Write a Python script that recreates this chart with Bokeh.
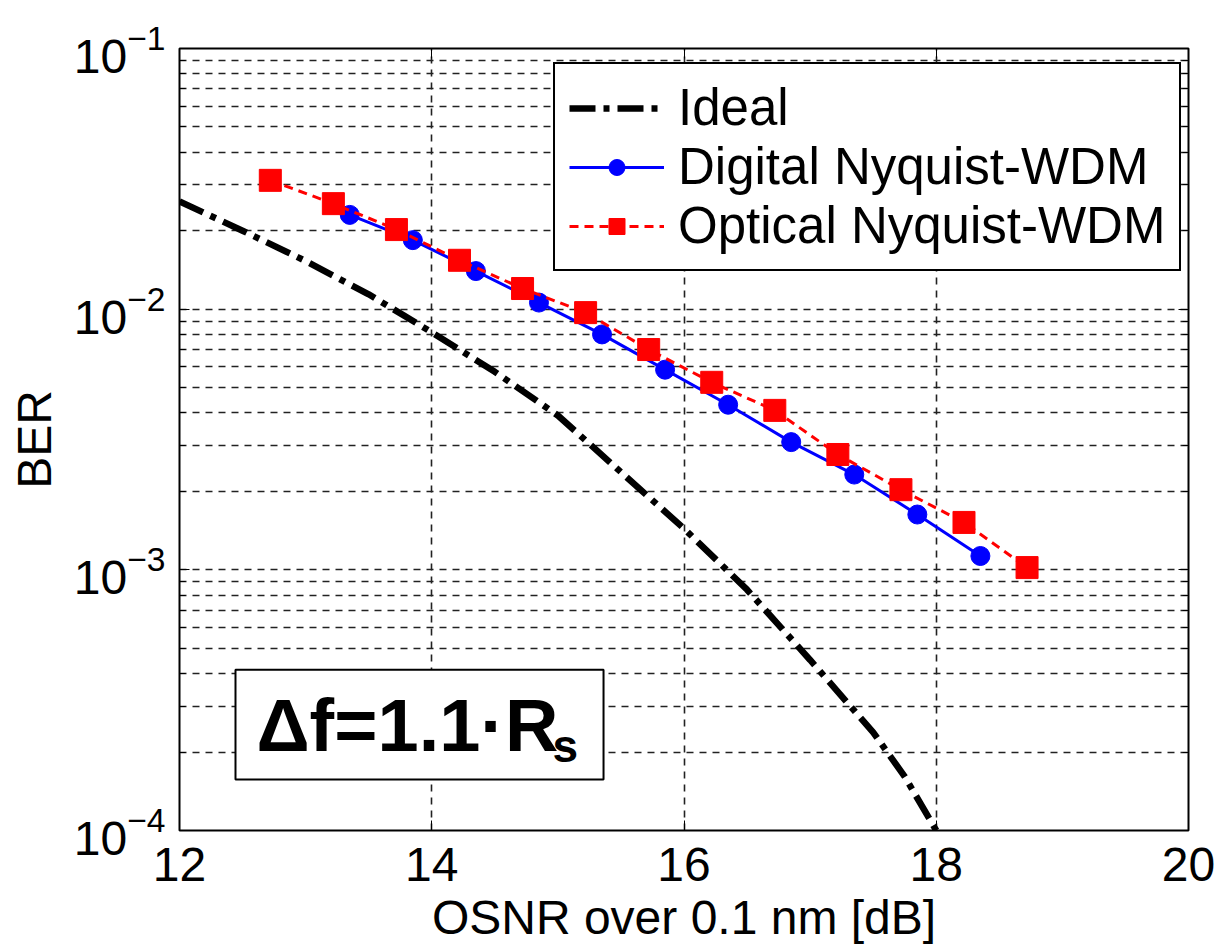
from bokeh.plotting import figure
from bokeh.models import (FixedTicker, LinearAxis, LogAxis, Label, BoxAnnotation,
                          CustomJSTickFormatter, LogTickFormatter, Legend, LegendItem)
from bokeh.embed import file_html
from bokeh.resources import INLINE

# OSNR [dB] and BER values
ideal_osnr = [12.0, 12.5, 13.0, 13.5, 14.0, 14.5, 15.0, 15.5, 16.0, 16.5, 17.0, 17.5, 17.75, 18.0]
ideal_ber = [2.59e-2, 2.00e-2, 1.53e-2, 1.14e-2, 8.15e-3, 5.75e-3, 3.91e-3, 2.37e-3,
             1.44e-3, 8.39e-4, 4.51e-4, 2.38e-4, 1.61e-4, 1.0e-4]

digital_osnr = [13.35, 13.85, 14.35, 14.85, 15.35, 15.85, 16.35, 16.85, 17.35, 17.85, 18.35]
digital_ber = [2.30e-2, 1.84e-2, 1.40e-2, 1.06e-2, 8.0e-3, 5.86e-3, 4.30e-3, 3.09e-3,
               2.32e-3, 1.63e-3, 1.13e-3]

optical_osnr = [12.72, 13.22, 13.72, 14.22, 14.72, 15.22, 15.72, 16.22, 16.72, 17.22,
                17.72, 18.22, 18.72]
optical_ber = [3.12e-2, 2.54e-2, 2.02e-2, 1.54e-2, 1.20e-2, 9.7e-3, 7.0e-3, 5.24e-3,
               4.09e-3, 2.77e-3, 2.03e-3, 1.52e-3, 1.02e-3]

x_ticks = [12, 14, 16, 18, 20]
y_ticks = [1e-1, 1e-2, 1e-3, 1e-4]
y_minor = [m * 10.0 ** e for e in (-4, -3, -2) for m in range(2, 10)]

FONT = "Liberation Sans"
GRID = "#222222"

p = figure(x_range=(12, 20), y_range=(1e-4, 1e-1), y_axis_type="log",
           width=1217, height=949,
           min_border_left=179, min_border_right=29, min_border_top=48, min_border_bottom=119,
           output_backend="svg", toolbar_location=None,
           background_fill_color="white", border_fill_color="white")
p.outline_line_color = "black"
p.outline_line_width = 2

blank = CustomJSTickFormatter(code="return ''")

# bottom axis
xa = p.xaxis[0]
xa.ticker = FixedTicker(ticks=x_ticks)
xa.major_label_text_font = FONT
xa.major_label_text_font_size = "48px"
xa.major_label_text_color = "black"
xa.major_label_standoff = 17
xa.major_tick_in = 10
xa.major_tick_out = 0
xa.minor_tick_line_color = None
xa.axis_line_color = "black"
xa.axis_label = "OSNR over 0.1 nm [dB]"
xa.axis_label_text_font = FONT
xa.axis_label_text_font_size = "48px"
xa.axis_label_text_font_style = "normal"
xa.axis_label_text_color = "black"
xa.axis_label_standoff = 7

# left axis: powers of ten
ya = p.yaxis[0]
ya.ticker = FixedTicker(ticks=y_ticks, minor_ticks=y_minor)
ya.formatter = LogTickFormatter()
ya.major_label_text_font = FONT
ya.major_label_text_font_size = "48px"
ya.major_label_text_color = "black"
ya.major_label_standoff = 14
ya.major_tick_in = 10
ya.major_tick_out = 0
ya.minor_tick_in = 6
ya.minor_tick_out = 0
ya.axis_line_color = "black"
ya.axis_label = "BER"
ya.axis_label_text_font = FONT
ya.axis_label_text_font_size = "48px"
ya.axis_label_text_font_style = "normal"
ya.axis_label_text_color = "black"
ya.axis_label_standoff = 10

top = LinearAxis(ticker=FixedTicker(ticks=x_ticks), formatter=blank,
                 major_tick_in=10, major_tick_out=0, minor_tick_line_color=None,
                 major_label_text_font_size="1px", major_label_standoff=0)
right = LogAxis(ticker=FixedTicker(ticks=y_ticks, minor_ticks=y_minor), formatter=blank,
                major_tick_in=10, major_tick_out=0, minor_tick_in=6, minor_tick_out=0,
                major_label_text_font_size="1px", major_label_standoff=0)
p.add_layout(top, "above")
p.add_layout(right, "right")

# dashed grid
p.xgrid.ticker = FixedTicker(ticks=x_ticks)
p.xgrid.grid_line_color = GRID
p.xgrid.grid_line_dash = "7 6"
p.xgrid.grid_line_width = 1.6
p.ygrid.ticker = FixedTicker(ticks=y_ticks, minor_ticks=y_minor)
p.ygrid.grid_line_color = GRID
p.ygrid.grid_line_dash = "7 6"
p.ygrid.grid_line_width = 1.6
p.ygrid.minor_grid_line_color = GRID
p.ygrid.minor_grid_line_dash = "7 6"
p.ygrid.minor_grid_line_width = 1.6

# curves
r_ideal = p.line(ideal_osnr, ideal_ber, line_color="black", line_width=6.5,
                 line_dash="26 8 6 8")
r_dig_l = p.line(digital_osnr, digital_ber, line_color="#0000ff", line_width=3)
r_dig_m = p.scatter(digital_osnr, digital_ber, marker="circle", size=19,
                    fill_color="#0000ff", line_color="#0000ff")
r_opt_l = p.line(optical_osnr, optical_ber, line_color="#ff0000", line_width=3,
                 line_dash="9 6")
r_opt_m = p.scatter(optical_osnr, optical_ber, marker="square", size=22,
                    fill_color="#ff0000", line_color="#ff0000")

legend = Legend(items=[
    LegendItem(label="Ideal", renderers=[r_ideal]),
    LegendItem(label="Digital Nyquist-WDM", renderers=[r_dig_l, r_dig_m]),
    LegendItem(label="Optical Nyquist-WDM", renderers=[r_opt_l, r_opt_m]),
], location=(374, 559))
legend.label_text_font = FONT
legend.label_text_font_size = "51px"
legend.label_text_color = "black"
legend.glyph_width = 95
legend.glyph_height = 40
legend.label_standoff = 14
legend.padding = 14
legend.spacing = 0
legend.margin = 0
legend.border_line_color = "black"
legend.border_line_width = 2
legend.border_line_alpha = 1.0
legend.background_fill_color = "white"
legend.background_fill_alpha = 1.0
p.add_layout(legend)

# channel spacing annotation
p.add_layout(BoxAnnotation(left=12.444, right=15.362, bottom=1.57e-4, top=4.14e-4,
                           fill_color="white", fill_alpha=1.0,
                           line_color="black", line_alpha=1.0, line_width=2))
p.add_layout(Label(x=12.61, y=2.0e-4, text="\u0394f=1.1\u00b7R", y_offset=27,
                   text_align="left", text_baseline="alphabetic",
                   text_font=FONT, text_font_style="bold", text_font_size="74px",
                   text_color="black"))
p.add_layout(Label(x=14.958, y=1.714e-4, text="s", y_offset=24,
                   text_align="left", text_baseline="alphabetic",
                   text_font=FONT, text_font_style="bold", text_font_size="46px",
                   text_color="black"))

open("out.html", "w").write(file_html(p, INLINE))
